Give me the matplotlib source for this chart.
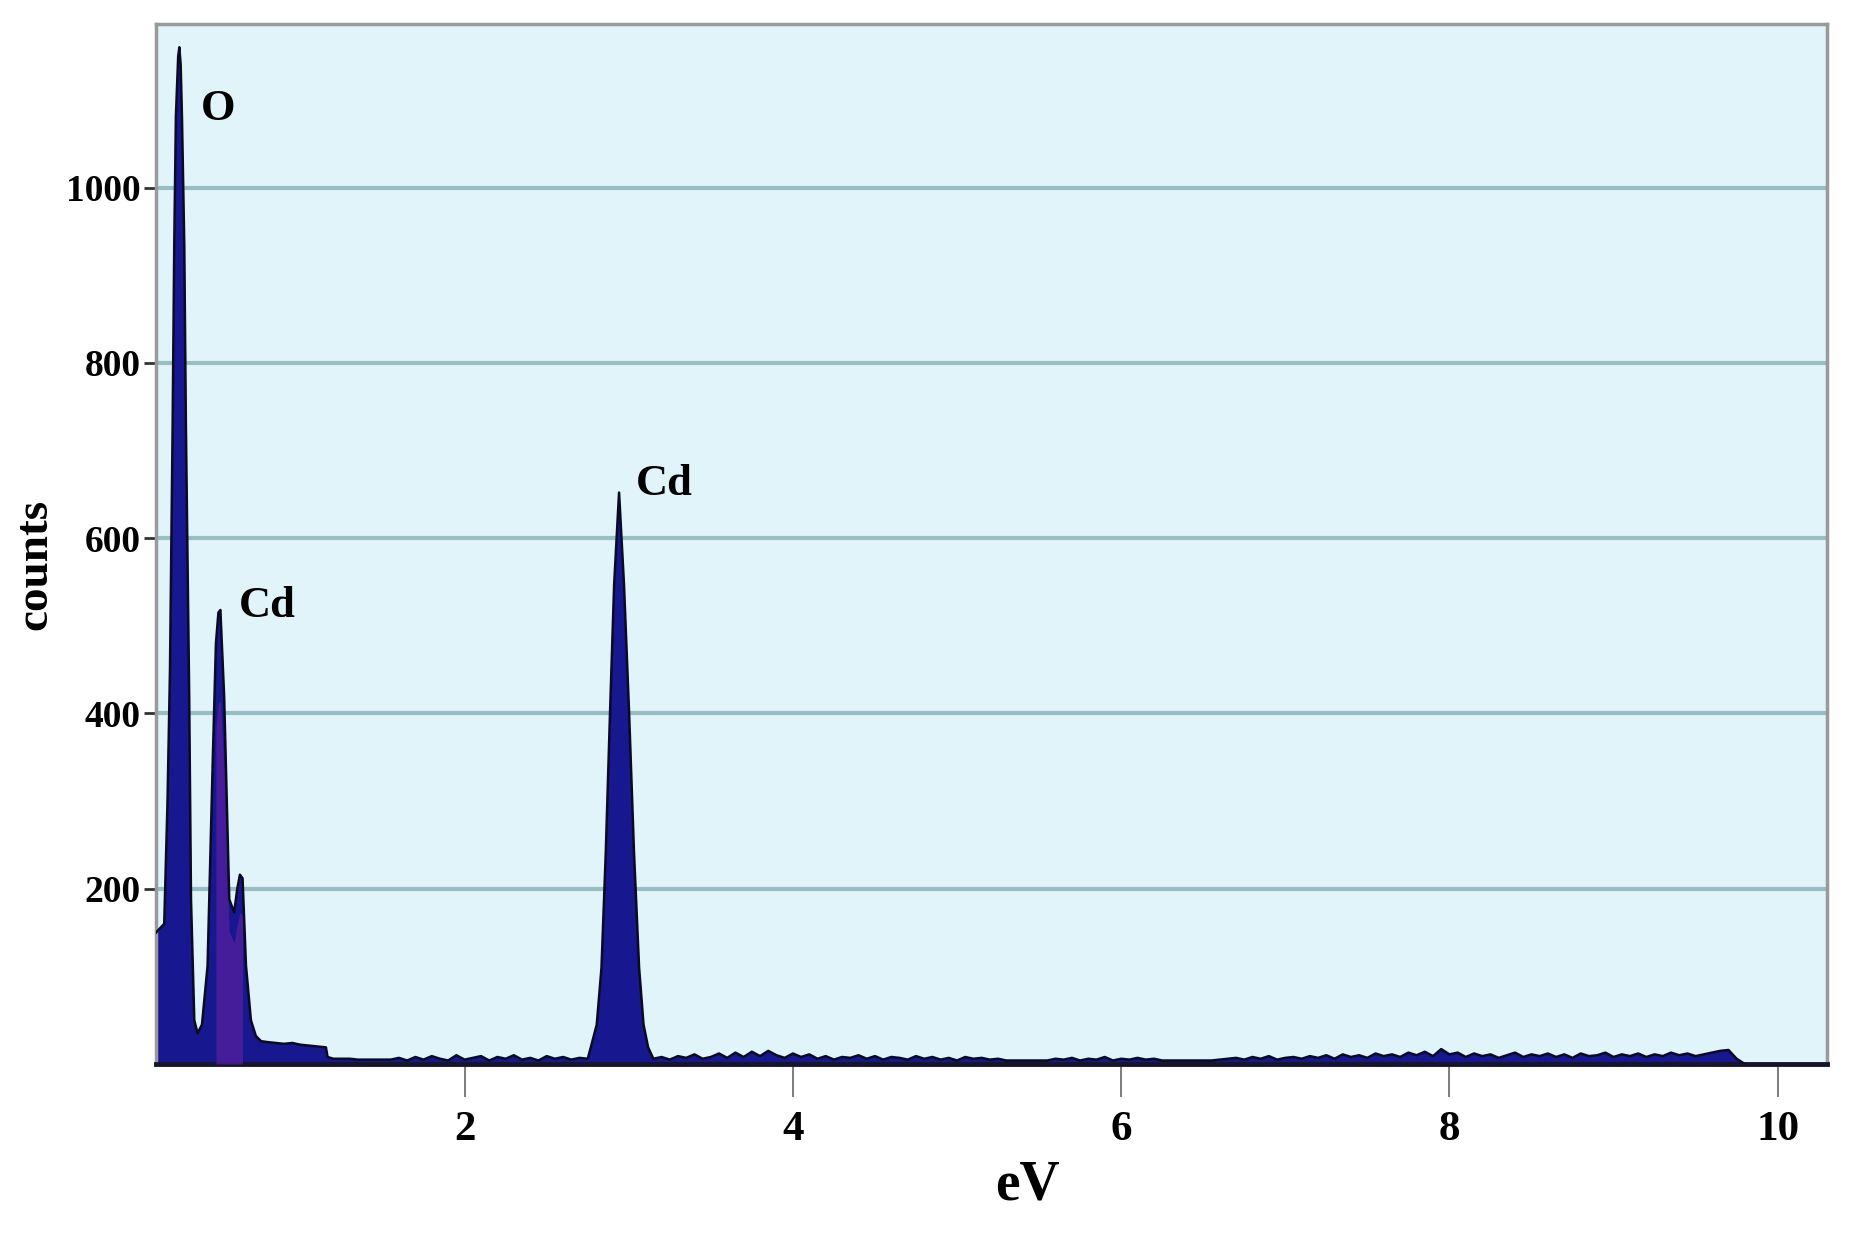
import matplotlib
matplotlib.use("Agg")
import matplotlib.pyplot as plt
import numpy as np

# EDS spectrum: energy (eV axis as labelled) vs counts
peak_energy = [0.12, 0.17, 0.19, 0.205, 0.221, 0.231, 0.241, 0.255, 0.262, 0.27,
               0.278, 0.292, 0.302, 0.322, 0.333, 0.353, 0.373, 0.40, 0.434, 0.465,
               0.485, 0.50, 0.512, 0.535, 0.566, 0.596, 0.615, 0.631, 0.647, 0.668,
               0.698, 0.728, 0.76, 0.80, 0.85, 0.90, 0.95, 1.00, 1.05, 1.10,
               1.155, 1.165]
peak_counts = [150, 160, 300, 450, 727, 935, 1081, 1150, 1160, 1140,
               1080, 935, 727, 419, 188, 50, 35, 45, 112, 342,
               480, 515, 518, 419, 188, 173, 200, 216, 212, 112,
               50, 32, 26, 25, 24, 23, 24, 22, 21, 20,
               19, 8]

low_energy = [1.20, 1.25, 1.30, 1.35, 1.40, 1.45, 1.50, 1.55,
              1.60, 1.65, 1.70, 1.75, 1.80, 1.85, 1.90, 1.95, 2.00, 2.05,
              2.10, 2.15, 2.20, 2.25, 2.30, 2.35, 2.40, 2.45, 2.50, 2.55,
              2.60, 2.65, 2.70, 2.75]
low_counts = [6, 6, 6, 5, 5, 5, 5, 5,
              7, 4, 8, 5, 9, 6, 4, 10, 5, 7,
              9, 4, 8, 6, 10, 5, 7, 4, 9, 6,
              8, 5, 7, 6]

cd_energy = [2.769, 2.805, 2.834, 2.860, 2.886, 2.911, 2.941, 2.971, 3.002, 3.032,
             3.063, 3.090, 3.118]
cd_counts = [19, 45, 110, 241, 401, 547, 652, 547, 401, 241,
             110, 45, 19]

tail_energy = [3.15, 3.20, 3.25, 3.30, 3.35, 3.40, 3.45, 3.50, 3.55, 3.60,
               3.65, 3.70, 3.75, 3.80, 3.85, 3.90, 3.95, 4.00, 4.05, 4.10,
               4.15, 4.20, 4.25, 4.30, 4.35, 4.40, 4.45, 4.50, 4.55, 4.60,
               4.65, 4.70, 4.75, 4.80, 4.85, 4.90, 4.95, 5.00, 5.05, 5.10,
               5.15, 5.20, 5.25, 5.30, 5.35, 5.40, 5.45, 5.50, 5.55, 5.60,
               5.65, 5.70, 5.75, 5.80, 5.85, 5.90, 5.95, 6.00, 6.05, 6.10,
               6.15, 6.20, 6.25, 6.30, 6.35, 6.40, 6.45, 6.50, 6.55, 6.60,
               6.65, 6.70, 6.75, 6.80, 6.85, 6.90, 6.95, 7.00, 7.05, 7.10,
               7.15, 7.20, 7.25, 7.30, 7.35, 7.40, 7.45, 7.50, 7.55, 7.60,
               7.65, 7.70, 7.75, 7.80, 7.85, 7.90, 7.95, 8.00, 8.05, 8.10,
               8.15, 8.20, 8.25, 8.30, 8.35, 8.40, 8.45, 8.50, 8.55, 8.60,
               8.65, 8.70, 8.75, 8.80, 8.85, 8.90, 8.95, 9.00, 9.05, 9.10,
               9.15, 9.20, 9.25, 9.30, 9.35, 9.40, 9.45, 9.50, 9.55, 9.60,
               9.65, 9.70, 9.75, 9.80]
tail_counts = [6, 8, 5, 9, 7, 11, 6, 8, 12, 7,
               13, 8, 14, 9, 15, 10, 7, 12, 8, 11,
               6, 9, 5, 8, 7, 10, 6, 9, 5, 8,
               7, 5, 9, 6, 8, 5, 7, 4, 8, 6,
               7, 5, 6, 4, 4, 4, 4, 4, 4, 6,
               5, 7, 4, 6, 5, 8, 4, 6, 5, 7,
               5, 6, 4, 4, 4, 4, 4, 4, 4, 5,
               6, 7, 5, 8, 6, 9, 5, 7, 8, 6,
               9, 7, 10, 6, 11, 8, 10, 7, 12, 9,
               11, 8, 13, 10, 14, 9, 17, 11, 13, 8,
               12, 9, 11, 7, 10, 13, 8, 11, 9, 12,
               8, 11, 7, 12, 9, 10, 13, 8, 11, 9,
               12, 8, 11, 9, 13, 10, 12, 9, 11, 13,
               15, 16, 6, 0]

y_ticks = [200, 400, 600, 800, 1000]
x_ticks = [2, 4, 6, 8, 10]

# peak labels: (text, energy, counts)
labels = [("O", 0.50, 1090), ("Cd", 0.80, 523), ("Cd", 3.215, 662)]

energy = np.array(peak_energy + low_energy + cd_energy + tail_energy)
counts = np.array(peak_counts + low_counts + cd_counts + tail_counts)

plt.rcParams['font.family'] = ['Liberation Serif', 'DejaVu Serif']

fig = plt.figure(figsize=(18.51, 12.43), dpi=100)
ax = fig.add_axes([0.0843, 0.144, 0.9027, 0.837])
ax.set_facecolor('#e0f4fa')

for yv in y_ticks:
    ax.axhline(yv, color='#97bec0', lw=3, zorder=1)

ax.fill_between(energy, counts, 0, color='#17178f', lw=0, zorder=2)
# purple tint in the middle of the first Cd peak
mid = (energy >= 0.48) & (energy <= 0.65)
ax.fill_between(energy[mid], counts[mid] * 0.8, 0, color='#5a1fa0', alpha=0.7, lw=0, zorder=3)
ax.plot(energy, counts, color='#0a0a22', lw=1.8, zorder=4)

for text, ex, cy in labels:
    ax.text(ex, cy, text, fontsize=32, fontweight='bold', ha='center', va='center', zorder=5)

ax.set_xlim(0.12, 10.30)
ax.set_ylim(0, 1187)
ax.set_xticks(x_ticks)
ax.set_yticks(y_ticks)
ax.set_xticklabels([str(v) for v in x_ticks], fontsize=31, fontweight='bold')
ax.set_yticklabels([str(v) for v in y_ticks], fontsize=27, fontweight='bold')
ax.tick_params(axis='x', length=24, width=1.2, color='#666666', pad=10)
ax.tick_params(axis='y', length=9, width=2, color='#333333', pad=2)

for side in ['left', 'top', 'right']:
    ax.spines[side].set_color('#9a9a9a')
    ax.spines[side].set_linewidth(2.5)
ax.spines['bottom'].set_color('#15152e')
ax.spines['bottom'].set_linewidth(3.5)

fig.text(0.555, 0.046, 'eV', fontsize=40, fontweight='bold', ha='center', va='center')
fig.text(0.019, 0.546, 'counts', fontsize=34, fontweight='bold', ha='center', va='center',
         rotation=90)

fig.savefig('out.png', dpi=100)
